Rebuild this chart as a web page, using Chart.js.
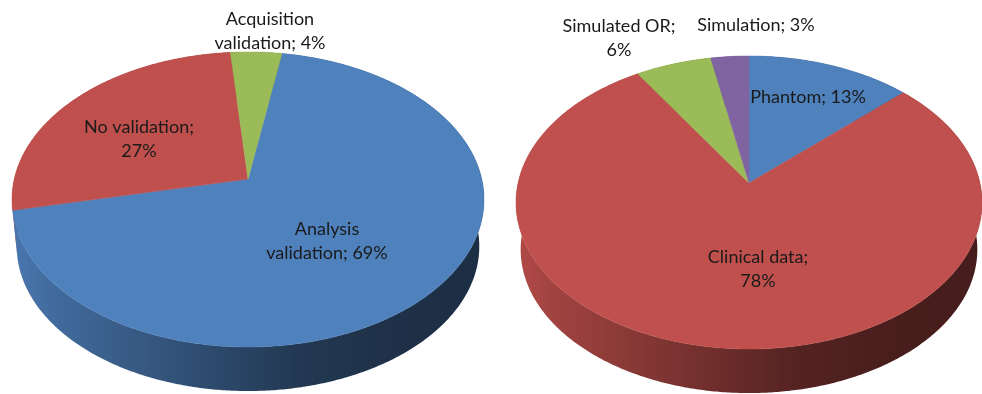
<!DOCTYPE html>
<html>
<head>
<meta charset="utf-8">
<style>
  html, body { margin: 0; padding: 0; background: #fff; }
  body { position: relative; width: 982px; height: 394px; overflow: hidden; }
  canvas { position: absolute; top: 0; }
</style>
<script src="https://cdn.jsdelivr.net/npm/chart.js@4/dist/chart.umd.min.js"></script>
</head>
<body>
<canvas id="validationPie" width="491" height="394" style="left:0"></canvas>
<canvas id="dataSourcePie" width="491" height="394" style="left:491px"></canvas>
<script>
// Validation type shares
const validationCategories = ["Analysis validation", "No validation", "Acquisition validation"];
const validationValues = [69, 27, 4];
const validationColors = ["#4f81bd", "#c0504d", "#9bbb59"];
const validationLabelLines = [
  ["Analysis", "validation; 69%"],
  ["No validation;", "27%"],
  ["Acquisition", "validation; 4%"]
];

// Validation data source shares
const sourceCategories = ["Phantom", "Clinical data", "Simulated OR", "Simulation"];
const sourceValues = [13, 78, 6, 3];
const sourceColors = ["#4f81bd", "#c0504d", "#9bbb59", "#8064a2"];
const sourceLabelLines = [
  ["Phantom; 13%"],
  ["Clinical data;", "78%"],
  ["Simulated OR;", "6%"],
  ["Simulation; 3%"]
];

// Rim shading across the width of the pie: [position, brightness]
const wallShade = [[0, 0.92], [0.08, 0.84], [0.23, 0.72], [0.46, 0.55], [0.6, 0.44], [0.8, 0.38], [1, 0.36]];

function shade(hex, k) {
  const n = parseInt(hex.slice(1), 16);
  const c = [n >> 16, (n >> 8) & 255, n & 255].map(v => Math.round(v * k));
  return `rgb(${c[0]},${c[1]},${c[2]})`;
}

// Maps an angle on the disc to the canvas under a perspective tilt,
// so the near half of the disc reads larger than the far half.
function makeProjector(g) {
  const p = (g.front - g.back) / (g.front + g.back);
  const S = g.front * (1 - p);
  const R = g.rx * Math.sqrt(1 - p * p);
  return function (angle, scale, drop) {
    const u = Math.cos(angle), v = Math.sin(angle);
    const w = scale / (1 - p * v);
    return { x: g.cx + R * u * w, y: g.cy + S * v * w + drop };
  };
}

function sampleAngles(start, end) {
  const n = Math.max(2, Math.ceil((end - start) / (Math.PI / 360)));
  const out = [];
  for (let i = 0; i <= n; i++) out.push(start + (end - start) * i / n);
  return out;
}

const tiltedPie = {
  id: "tiltedPie",
  // Replaces the flat arc rendering with a tilted disc built from the arc angles.
  beforeDatasetsDraw(chart, args, g) {
    const ctx = chart.ctx;
    const project = makeProjector(g);
    const arcs = chart.getDatasetMeta(0).data;
    const colors = chart.data.datasets[0].backgroundColor;

    // Rim first, widest slice last so it sits in front of its neighbours.
    const byWidth = arcs.map((arc, i) => ({ arc, i }))
      .sort((a, b) => a.arc.circumference - b.arc.circumference);
    byWidth.forEach(({ arc, i }) => {
      const grad = ctx.createLinearGradient(g.cx - g.rx, 0, g.cx + g.rx, 0);
      wallShade.forEach(s => grad.addColorStop(s[0], shade(colors[i], s[1])));
      ctx.fillStyle = grad;
      const angles = sampleAngles(arc.startAngle, arc.endAngle);
      ctx.beginPath();
      angles.forEach((a, j) => {
        const q = project(a, 1, 0);
        j ? ctx.lineTo(q.x, q.y) : ctx.moveTo(q.x, q.y);
      });
      angles.slice().reverse().forEach(a => {
        const q = project(a, g.wallScale, g.drop);
        ctx.lineTo(q.x, q.y);
      });
      ctx.closePath();
      ctx.fill();
    });

    // Top face of every slice.
    arcs.forEach((arc, i) => {
      ctx.fillStyle = colors[i];
      ctx.strokeStyle = colors[i];
      ctx.lineWidth = 0.5;
      ctx.beginPath();
      ctx.moveTo(g.cx, g.cy);
      sampleAngles(arc.startAngle, arc.endAngle).forEach(a => {
        const q = project(a, 1, 0);
        ctx.lineTo(q.x, q.y);
      });
      ctx.closePath();
      ctx.fill();
      ctx.stroke();
    });
    return false;
  },
  afterDraw(chart, args, g) {
    const ctx = chart.ctx;
    ctx.fillStyle = "#1a1a1a";
    ctx.font = '18px Lato, "Open Sans", sans-serif';
    ctx.textAlign = "center";
    ctx.textBaseline = "alphabetic";
    g.lines.forEach((lines, i) => {
      lines.forEach((text, j) => {
        ctx.fillText(text, g.labelAt[i][0], g.labelAt[i][1] + j * g.lineGap);
      });
    });
  }
};

function buildPie(id, labels, values, colors, rotation, geometry) {
  return new Chart(document.getElementById(id), {
    type: "pie",
    data: {
      labels: labels,
      datasets: [{ data: values, backgroundColor: colors, borderWidth: 0 }]
    },
    options: {
      responsive: false,
      animation: false,
      devicePixelRatio: 1,
      rotation: rotation,
      events: [],
      plugins: {
        legend: { display: false },
        tooltip: { enabled: false },
        tiltedPie: geometry
      }
    },
    plugins: [tiltedPie]
  });
}

buildPie("validationPie", validationCategories, validationValues, validationColors, 9.5, {
  cx: 248, cy: 179, rx: 236, back: 127, front: 168, drop: 47.4, wallScale: 0.98,
  lines: validationLabelLines,
  labelAt: [[327, 235], [139, 133], [270, 25]],
  lineGap: 24
});

buildPie("dataSourcePie", sourceCategories, sourceValues, sourceColors, 0, {
  cx: 258, cy: 183, rx: 233, back: 127, front: 166, drop: 47.4, wallScale: 0.98,
  lines: sourceLabelLines,
  labelAt: [[317, 103], [267, 263], [128, 32], [265, 31]],
  lineGap: 24
});
</script>
</body>
</html>
